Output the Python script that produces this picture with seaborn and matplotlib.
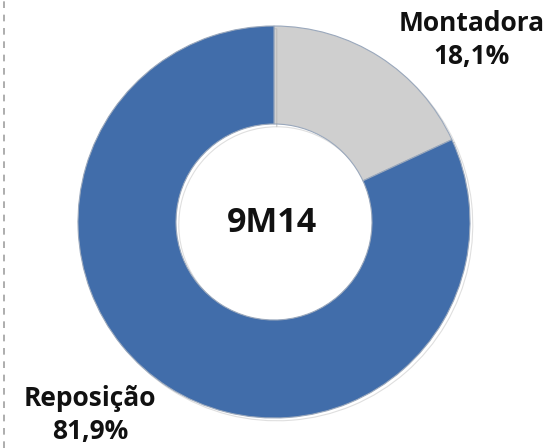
import matplotlib
matplotlib.use("Agg")
import matplotlib.pyplot as plt
import matplotlib.patheffects as pe
import seaborn as sns

# Data
segments = ['Montadora', 'Reposição']
shares = [18.1, 81.9]
share_labels = ['18,1%', '81,9%']
center_label = '9M14'
colors = ['#CFCFCF', '#416DAA']

sns.set_theme(style="white")
plt.rcParams['font.family'] = ['Open Sans', 'DejaVu Sans']

fig = plt.figure(figsize=(5.46, 4.48), dpi=100)
ax = fig.add_axes([0, 0, 1, 1])

wedges, _ = ax.pie(
    shares, colors=colors, startangle=90, counterclock=False,
    center=(274, 226), radius=196,
    wedgeprops=dict(width=98, edgecolor='#9AA8BC', linewidth=0.8),
    frame=True,
)
for w in wedges:
    w.set_path_effects([pe.SimpleLineShadow(offset=(2, -2), alpha=0.25, shadow_color='gray'),
                        pe.Normal()])
ax.set_xlim(0, 546)
ax.set_ylim(0, 448)
ax.set_aspect('equal')
ax.axis('off')

# dashed separator on the left edge
ax.plot([4, 4], [0, 448], linestyle=(0, (4, 4)), color='#A0A0A0', linewidth=1.2)

ax.text(272, 225, center_label, ha='center', va='center', fontsize=24.5,
        fontweight='bold', color='#111111')
ax.text(472, 408, f"{segments[0]}\n{share_labels[0]}", ha='center', va='center',
        fontsize=19, fontweight='bold', color='#111111', linespacing=1.25)
ax.text(90, 33, f"{segments[1]}\n{share_labels[1]}", ha='center', va='center',
        fontsize=19, fontweight='bold', color='#111111', linespacing=1.25)

plt.savefig('out.png', dpi=100)
